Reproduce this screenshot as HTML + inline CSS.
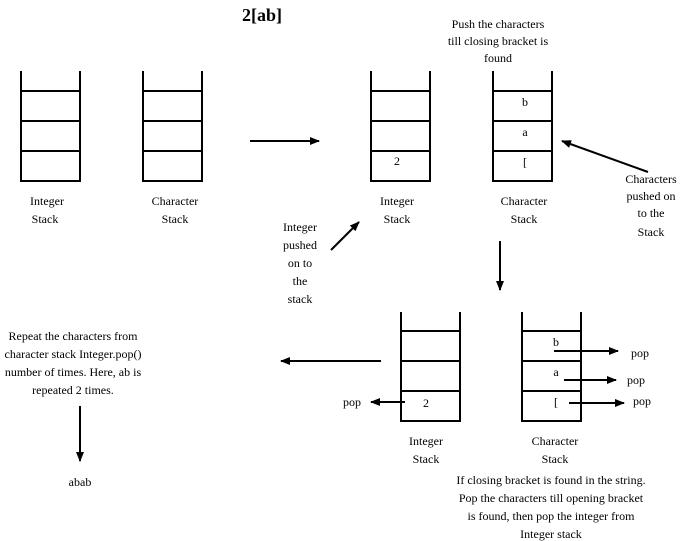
<!DOCTYPE html>
<html><head><meta charset="utf-8"><style>
html,body{margin:0;padding:0;background:#fff;}
svg{display:block;}
text{font-family:"Liberation Serif",serif;font-size:12px;fill:#000;}
</style></head><body>
<svg width="685" height="541" viewBox="0 0 685 541" xmlns="http://www.w3.org/2000/svg">
<defs><marker id="a" markerWidth="10" markerHeight="8" refX="9" refY="4" orient="auto" markerUnits="userSpaceOnUse"><path d="M0,0 L10,4 L0,8 z" fill="#000"/></marker></defs>
<g stroke="#000" stroke-width="2" fill="none">
<path d="M21,71 V181 H80 V71 M21,91 H80 M21,121 H80 M21,151 H80"/>
<path d="M143,71 V181 H202 V71 M143,91 H202 M143,121 H202 M143,151 H202"/>
<path d="M371,71 V181 H430 V71 M371,91 H430 M371,121 H430 M371,151 H430"/>
<path d="M493,71 V181 H552 V71 M493,91 H552 M493,121 H552 M493,151 H552"/>
<path d="M401,312 V421 H460 V312 M401,331 H460 M401,361 H460 M401,391 H460"/>
<path d="M522,312 V421 H581 V312 M522,331 H581 M522,361 H581 M522,391 H581"/>
</g>
<g stroke="#000" stroke-width="2" marker-end="url(#a)">
<line x1="250" y1="141" x2="319" y2="141"/>
<line x1="648" y1="172" x2="562" y2="141"/>
<line x1="331" y1="250" x2="359" y2="222"/>
<line x1="500" y1="241" x2="500" y2="290"/>
<line x1="381" y1="361" x2="281" y2="361"/>
<line x1="405" y1="402" x2="371" y2="402"/>
<line x1="554" y1="351" x2="618" y2="351"/>
<line x1="564" y1="380" x2="616" y2="380"/>
<line x1="569" y1="403" x2="624" y2="403"/>
<line x1="80" y1="406" x2="80" y2="461"/>
</g>
<text x="262" y="21" text-anchor="middle" style="font-size:18px;font-weight:bold">2[ab]</text>
<g text-anchor="middle">
<text x="47" y="205">Integer</text><text x="45" y="223">Stack</text>
<text x="175" y="205">Character</text><text x="175" y="223">Stack</text>
<text x="397" y="205">Integer</text><text x="397" y="223">Stack</text>
<text x="524" y="205">Character</text><text x="524" y="223">Stack</text>
<text x="426" y="445">Integer</text><text x="426" y="463">Stack</text>
<text x="555" y="445">Character</text><text x="555" y="463">Stack</text>
<text x="498" y="28">Push the characters</text><text x="498" y="45">till closing bracket is</text><text x="498" y="62">found</text>
<text x="651" y="183">Characters</text><text x="651" y="200">pushed on</text><text x="651" y="217">to the</text><text x="651" y="236">Stack</text>
<text x="300" y="231">Integer</text><text x="300" y="249">pushed</text><text x="300" y="267">on to</text><text x="300" y="285">the</text><text x="300" y="303">stack</text>
<text x="73" y="340">Repeat the characters from</text><text x="73" y="358">character stack Integer.pop()</text><text x="73" y="376">number of times. Here, ab is</text><text x="73" y="394">repeated 2 times.</text>
<text x="80" y="486">abab</text>
<text x="551" y="484">If closing bracket is found in the string.</text><text x="551" y="502">Pop the characters till opening bracket</text><text x="551" y="520">is found, then pop the integer from</text><text x="551" y="538">Integer stack</text>
<text x="397" y="165">2</text>
<text x="525" y="106">b</text><text x="525" y="136">a</text><text x="525" y="166">[</text>
<text x="426" y="407">2</text>
<text x="556" y="346">b</text><text x="556" y="376">a</text><text x="556" y="406">[</text>
</g>
<text x="631" y="357">pop</text>
<text x="627" y="384">pop</text>
<text x="633" y="405">pop</text>
<text x="343" y="406">pop</text>
</svg>
</body></html>
